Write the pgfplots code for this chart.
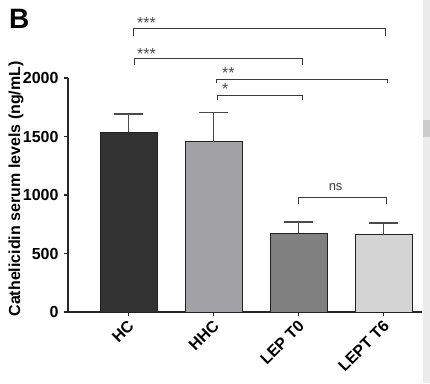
\documentclass[border=0pt]{standalone}
\usepackage{pgfplots}
\pgfplotsset{compat=1.18}
\usepackage{fontspec}
\setmainfont{Liberation Sans}
\definecolor{cHC}{HTML}{333333}
\definecolor{cHHC}{HTML}{A3A3A7}
\definecolor{cT0}{HTML}{808080}
\definecolor{cT6}{HTML}{D4D4D4}
\definecolor{edge}{HTML}{222222}
\definecolor{brk}{HTML}{3A3A3A}
\definecolor{ebar}{HTML}{4A4A4A}
\pgfplotsset{mybar/.style={ybar, bar width=57pt, bar shift=0pt, draw=edge, line width=0.8pt,
  error bars/y dir=plus, error bars/y explicit, error bars/error mark=|,
  error bars/error bar style={line width=1.2pt, ebar},
  error bars/error mark options={line width=1.4pt, ebar, mark size=14.5pt}}}
\begin{document}
\begin{tikzpicture}
\path[use as bounding box] (0,0) rectangle (430pt,383pt);
\fill[white] (0,0) rectangle (430pt,383pt);
\fill[black!8] (423pt,0) rectangle (430pt,383pt);
\fill[black!20] (423pt,246pt) rectangle (430pt,263pt);
\node[anchor=north west, inner sep=0pt, font=\fontsize{28}{30}\selectfont\bfseries] at (9pt,374pt) {B};
\begin{axis}[
  at={(68pt,71pt)}, anchor=south west,
  scale only axis, width=354pt, height=234pt,
  xmin=-0.71, xmax=3.45, ymin=0, ymax=2000,
  axis x line=bottom, axis y line=left,
  axis line style={-, line width=1.2pt, black!85},
  tick style={line width=1.2pt, black!85},
  tick align=outside, major tick length=4pt,
  ytick={0,500,1000,1500,2000},
  xtick={0,1,2,3},
  xticklabels={HC,HHC,LEP T0,LEPT T6},
  /pgf/number format/assume math mode=true,
  /pgf/number format/set thousands separator={},
  ticklabel style={font=\fontsize{16}{18}\selectfont\bfseries},
  yticklabel style={xshift=-2pt},
  xticklabel style={rotate=45, anchor=north east, yshift=2pt},
  ylabel={Cathelicidin serum levels (ng/mL)},
  ylabel style={font=\fontsize{16}{18}\selectfont\bfseries, at={(axis description cs:-0.147,0.526)}, anchor=center},
  clip=false,
]
\addplot[mybar, fill=cHC] coordinates {(0,1536) +- (0,156)};
\addplot[mybar, fill=cHHC] coordinates {(1,1456) +- (0,251)};
\addplot[mybar, fill=cT0] coordinates {(2,672) +- (0,97)};
\addplot[mybar, fill=cT6] coordinates {(3,661) +- (0,100)};
% significance brackets
\addplot[brk, line width=1pt, mark=none] coordinates {(0.065,2360) (0.065,2419) (3.02,2419) (3.02,2360)};
\addplot[brk, line width=1pt, mark=none] coordinates {(0.076,2110) (0.076,2165) (2.04,2165) (2.04,2110)};
\addplot[brk, line width=1pt, mark=none] coordinates {(1.04,1955) (1.04,1989) (3.05,1989) (3.05,1955)};
\addplot[brk, line width=1pt, mark=none] coordinates {(1.05,1810) (1.05,1849) (2.04,1849) (2.04,1810)};
\addplot[brk, line width=1pt, mark=none] coordinates {(2.0,925) (2.0,977) (3.03,977) (3.03,925)};
\node[anchor=base west, inner sep=0pt, text=black!70, font=\fontsize{16}{17}\selectfont] at (axis cs:0.10,2425) {***};
\node[anchor=base west, inner sep=0pt, text=black!70, font=\fontsize{16}{17}\selectfont] at (axis cs:0.10,2160) {***};
\node[anchor=base west, inner sep=0pt, text=black!70, font=\fontsize{16}{17}\selectfont] at (axis cs:1.10,1995) {**};
\node[anchor=base west, inner sep=0pt, text=black!70, font=\fontsize{16}{17}\selectfont] at (axis cs:1.10,1855) {*};
\node[anchor=center, inner sep=0pt, text=black!75, font=\fontsize{13}{14}\selectfont] at (axis cs:2.435,1068) {ns};
\end{axis}
\end{tikzpicture}
\end{document}
